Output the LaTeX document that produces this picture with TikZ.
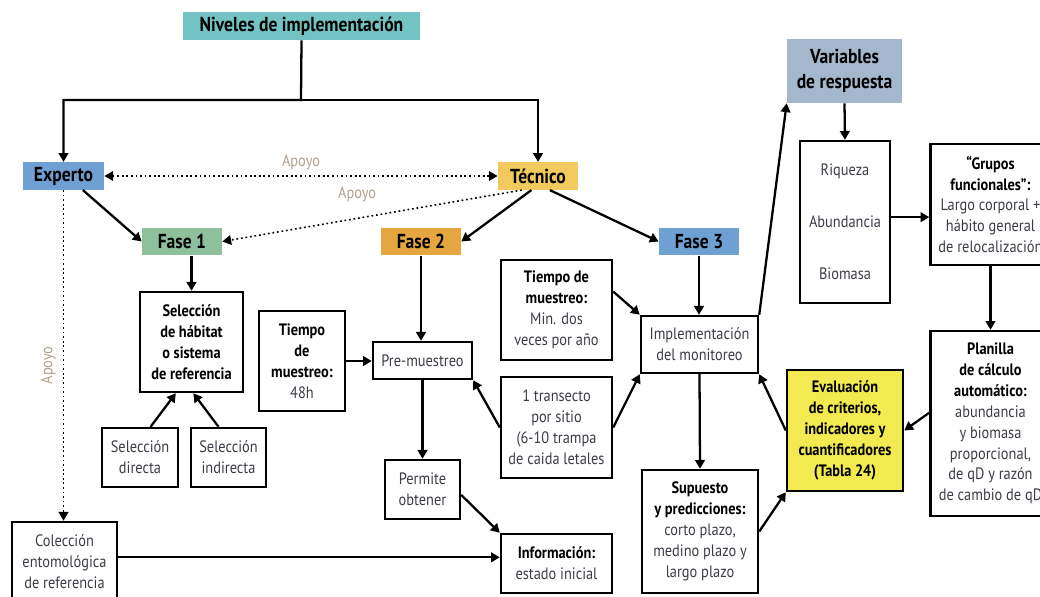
\documentclass[tikz,border=0pt]{standalone}
\usepackage{fontspec}
\setmainfont{PT Sans}[FakeStretch=0.87]
\usepackage{tikz}
\usetikzlibrary{arrows.meta, calc, positioning}
\definecolor{nivcol}{HTML}{73C2C4}
\definecolor{expcol}{HTML}{6FA0D2}
\definecolor{teccol}{HTML}{F2C95C}
\definecolor{f1col}{HTML}{8EC09E}
\definecolor{f2col}{HTML}{E5A540}
\definecolor{varcol}{HTML}{A3B8CC}
\definecolor{evacol}{HTML}{F2EA50}
\definecolor{txtcol}{HTML}{3C3C46}
\definecolor{apoyocol}{HTML}{B0A08C}
\newcommand{\hb}[1]{{\color{black}\bfseries #1}}
\tikzset{
    >={Triangle[length=5pt,width=5.5pt]},
    arr/.style ={->, line width=1.3pt},
    dots/.style ={line width=0.9pt, dash pattern=on 1pt off 1.6pt},
    box/.style ={draw, line width=1.4pt, align=center, inner sep=1pt, text=txtcol, font=\fontsize{9.4}{11.9}\selectfont},
    head/.style ={align=center, inner sep=1pt, font=\bfseries\fontsize{11.5}{14}\selectfont},
    tag/.style ={head, minimum width=1.6cm, minimum height=0.55cm},
    lbl/.style ={text=apoyocol, inner sep=2pt, font=\fontsize{9.4}{11}\selectfont}
}
\begin{document}
\begin{tikzpicture}[x=0.02cm, y=-0.02cm]
  \useasboundingbox (0,0) rectangle (1040,597);
  \clip (0,0) rectangle (1040,597);

  \node[head, fill=nivcol, minimum width=4.74cm, minimum height=0.56cm] (niv) at (301.5,26) {Niveles de implementación};
  \node[tag, fill=expcol, minimum width=1.62cm] (exp) at (63.5,176) {Experto};
  \node[tag, fill=teccol] (tec) at (538,176) {Técnico};
  \node[tag, fill=f1col] (f1) at (182,241.5) {Fase 1};
  \node[tag, fill=f2col] (f2) at (421,241.5) {Fase 2};
  \node[tag, fill=expcol] (f3) at (699,241.5) {Fase 3};
  \node[head, fill=varcol, minimum width=2.3cm, minimum height=1.28cm] (var) at (844.5,71) {Variables\\de respuesta};
  \coordinate (jn) at (301,100);

  \node[box, minimum width=2.06cm, minimum height=2cm] (hab) at (191.5,342) {\hb{Selección}\\\hb{de hábitat}\\\hb{o sistema}\\\hb{de referencia}};
  \node[box, minimum width=1.52cm, minimum height=1.18cm] (sdir) at (140,457.5) {Selección\\directa};
  \node[box, minimum width=1.5cm, minimum height=1.18cm] (sind) at (228.5,457.5) {Selección\\indirecta};
  \node[box, minimum width=1.72cm, minimum height=2cm] (t48) at (302,361) {\hb{Tiempo}\\\hb{de}\\\hb{muestreo:}\\48h};
  \node[box, minimum width=1.98cm, minimum height=0.74cm] (pre) at (422.5,360.5) {Pre-muestreo};
  \node[box, minimum width=1.5cm, minimum height=1.18cm] (perm) at (422.5,489.5) {Permite\\obtener};
  \node[box, minimum width=2.1cm, minimum height=1.6cm] (col) at (64.5,562) {Colección\\entomológica\\de referencia};
  \node[box, minimum width=2.22cm, minimum height=2cm] (tmin) at (556.5,310) {\hb{Tiempo de}\\\hb{muestreo:}\\Min. dos\\veces por año};
  \node[box, minimum width=2.22cm, minimum height=2.02cm] (tra) at (556.5,427.5) {1 transecto\\por sitio\\(6-10 trampa\\de caida letales};
  \node[box, minimum width=2.22cm, minimum height=1.18cm] (inf) at (556.5,563.5) {\hb{Información:}\\estado inicial};
  \node[box, minimum width=2.34cm, minimum height=1.14cm] (imp) at (699.5,344.5) {Implementación\\del monitoreo};
  \node[box, minimum width=2.32cm, minimum height=2.46cm] (sup) at (700,531.5) {\hb{Supuesto}\\\hb{y predicciones:}\\corto plazo,\\medino plazo y\\largo plazo};
  \node[box, fill=evacol, minimum width=2.32cm, minimum height=2.42cm] (eva) at (845,430.5) {\hb{Evaluación}\\\hb{de criterios,}\\\hb{indicadores y}\\\hb{cuantificadores}\\\hb{(Tabla 24)}};
  \node[box, minimum width=1.8cm, minimum height=3.24cm] (riq) at (845,222) {Riqueza\\[17.6pt]Abundancia\\[17.6pt]Biomasa};
  \node[box, minimum width=2.4cm, minimum height=2.42cm] (gru) at (990.5,204.5) {\hb{“Grupos}\\\hb{funcionales”:}\\Largo corporal +\\hábito general\\de relocalización};
  \node[box, minimum width=2.4cm, minimum height=3.7cm] (pla) at (990.5,423.5) {\hb{Planilla}\\\hb{de cálculo}\\\hb{automático:}\\abundancia\\y biomasa\\proporcional,\\de qD y razón\\de cambio de qD};

  \draw[arr] (niv.south) -- (jn) -| (exp.north);
  \draw[arr] (jn) -| (tec.north);
  \draw[dots, <->] (exp.east) -- node[lbl, above=1pt] {Apoyo} (tec.west);
  \draw[dots, ->] (tec.-139) -- node[lbl, pos=0.55, above=7pt] {Apoyo} (f1.east);
  \draw[dots, ->] (exp.south) -- node[lbl, rotate=90, anchor=south, pos=0.53, inner sep=4pt] {Apoyo} (exp.south |- col.north);
  \draw[arr] (exp.-36) -- (f1.west);
  \draw[arr] (tec.-115) -- (f2.east);
  \draw[arr] (tec.-50) -- (f3.west);
  \draw[arr] (f1.south -| hab.north) -- (hab.north);
  \draw[arr] (sdir.71) -- (hab.-107);
  \draw[arr] (sind.108) -- (hab.-88);
  \draw[arr] (t48.east) -- (t48.east -| pre.west);
  \draw[arr] (f2.south) -- (f2.south |- pre.north);
  \draw[arr] (pre.south) -- (perm.north);
  \draw[arr] (tra.west) -- (pre.south east);
  \draw[arr] (perm.-8) -- (inf.north west);
  \draw[arr] (col.5) -- (col.5 -| inf.west);
  \draw[arr] (tmin.18) -- (imp.north west);
  \draw[arr] (tra.east) -- (imp.south west);
  \draw[arr] (f3.south) -- (f3.south |- imp.north);
  \draw[arr] (imp.south) -- (sup.north);
  \draw[arr] (sup.east) -- (eva.south west);
  \draw[arr] (eva.west) -- (imp.south east);
  \draw[arr] (imp.north east) -- (var.south west);
  \draw[arr] (var.south) -- (riq.north);
  \draw[arr] (riq.6) -- (riq.6 -| gru.west);
  \draw[arr] (gru.south) -- (pla.north);
  \draw[arr] (pla.170) -- (eva.east);
\end{tikzpicture}
\end{document}
